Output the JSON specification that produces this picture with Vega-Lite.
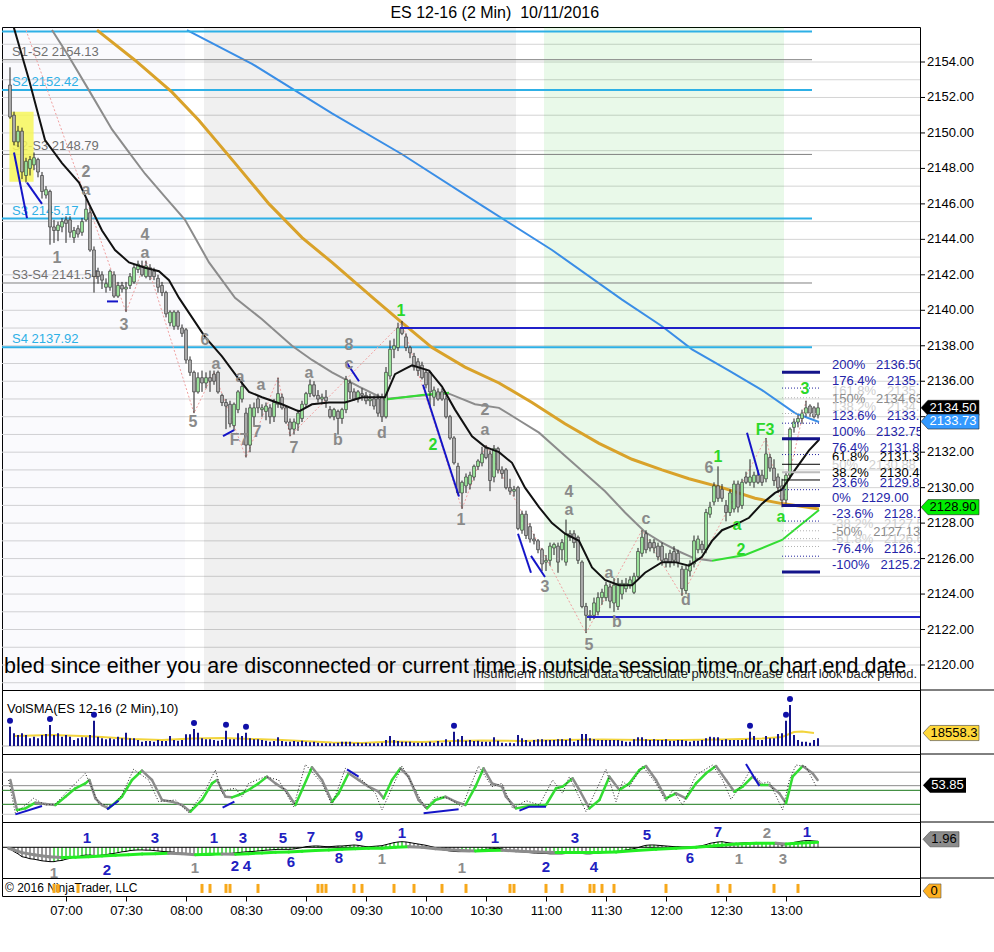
{
"$schema": "https://vega.github.io/schema/vega-lite/v6.json",
"background": "white",
"padding": {"left": 0, "top": 4, "right": 0, "bottom": 0},
"bounds": "flush",
"title": {"text": "ES 12-16 (2 Min)\u00a0 10/11/2016", "anchor": "middle", "fontSize": 16, "fontWeight": "normal", "font": "Liberation Sans", "color": "#000", "offset": 6, "dx": -4},
"config": {
  "view": {"stroke": "#000", "strokeWidth": 1},
  "font": "Liberation Sans",
  "scale": {"continuousPadding": 0},
  "axis": {"labelFontSize": 13, "labelColor": "#000", "tickColor": "#000", "domain": false, "grid": false, "labelFont": "Liberation Sans"}
},
"spacing": 0,
"resolve": {"scale": {"x": "independent", "y": "independent"}},
"datasets": {
"bars": [
{"t":392,"o":2152.7,"h":2153.7,"l":2150.8,"c":2150.9,"v":27600,"m":-0.4,"hv":1},
{"t":394,"o":2151.0,"h":2151.2,"l":2149.3,"c":2149.5,"v":18160,"m":-1.06},
{"t":396,"o":2149.5,"h":2150.4,"l":2149.2,"c":2150.1,"v":15730,"m":-1.6},
{"t":398,"o":2150.1,"h":2150.3,"l":2147.4,"c":2147.8,"v":18160,"m":-2.3},
{"t":400,"o":2147.6,"h":2148.6,"l":2147.2,"c":2148.4,"v":15730,"m":-2.5},
{"t":402,"o":2148.0,"h":2148.7,"l":2147.6,"c":2148.5,"v":11010,"m":-2.8},
{"t":404,"o":2148.2,"h":2148.9,"l":2147.9,"c":2148.6,"v":13300,"m":-2.9},
{"t":406,"o":2148.5,"h":2148.6,"l":2147.5,"c":2147.8,"v":11010,"m":-3.1},
{"t":408,"o":2147.6,"h":2147.8,"l":2146.3,"c":2146.7,"v":15730,"m":-3.3},
{"t":410,"o":2146.5,"h":2147.0,"l":2146.3,"c":2146.8,"v":17160,"m":-3.4},
{"t":412,"o":2146.7,"h":2146.8,"l":2143.7,"c":2144.7,"v":30030,"m":-3.5,"hv":1},
{"t":414,"o":2144.7,"h":2145.1,"l":2143.8,"c":2144.5,"v":15730,"m":-3.5,"mk":1},
{"t":416,"o":2144.5,"h":2145.0,"l":2143.9,"c":2144.8,"v":18160,"m":-3.3,"mk":1},
{"t":418,"o":2144.7,"h":2145.2,"l":2144.4,"c":2145.0,"v":13300,"m":-3.2},
{"t":420,"o":2145.1,"h":2145.3,"l":2143.8,"c":2144.9,"v":15730,"m":-2.9},
{"t":422,"o":2145.1,"h":2145.3,"l":2144.1,"c":2144.4,"v":13300,"m":-2.7},
{"t":424,"o":2144.1,"h":2144.7,"l":2143.8,"c":2144.5,"v":8580,"m":-2.4},
{"t":426,"o":2144.6,"h":2144.8,"l":2144.1,"c":2144.3,"v":11010,"m":-2.3,"mk":1},
{"t":428,"o":2144.4,"h":2145.2,"l":2144.2,"c":2145.0,"v":12440,"m":-2.0},
{"t":430,"o":2145.1,"h":2146.3,"l":2145.0,"c":2145.7,"v":12440,"m":-1.9},
{"t":432,"o":2145.5,"h":2145.8,"l":2143.3,"c":2143.4,"v":15730,"m":-1.9},
{"t":434,"o":2143.4,"h":2143.6,"l":2141.0,"c":2141.9,"v":36180,"m":-2.0,"hv":1},
{"t":436,"o":2142.2,"h":2142.4,"l":2141.5,"c":2141.9,"v":13300,"m":-2.0},
{"t":438,"o":2142.0,"h":2142.2,"l":2141.2,"c":2141.7,"v":11010,"m":-1.9},
{"t":440,"o":2141.3,"h":2141.8,"l":2141.0,"c":2141.5,"v":9580,"m":-1.8},
{"t":442,"o":2141.3,"h":2142.3,"l":2141.1,"c":2142.2,"v":11010,"m":-1.6},
{"t":444,"o":2142.0,"h":2142.2,"l":2140.7,"c":2140.8,"v":9580,"m":-1.5},
{"t":446,"o":2140.8,"h":2141.6,"l":2140.7,"c":2141.4,"v":13300,"m":-1.3},
{"t":448,"o":2141.4,"h":2141.6,"l":2141.0,"c":2141.2,"v":11010,"m":-1.1},
{"t":450,"o":2141.2,"h":2141.6,"l":2139.9,"c":2141.3,"v":19020,"m":-1.0},
{"t":452,"o":2141.4,"h":2142.1,"l":2141.2,"c":2141.9,"v":11010,"m":-0.8},
{"t":454,"o":2141.6,"h":2142.6,"l":2141.5,"c":2142.4,"v":11010,"m":-0.7},
{"t":456,"o":2142.3,"h":2142.8,"l":2142.1,"c":2142.6,"v":8580,"m":-0.65},
{"t":458,"o":2142.5,"h":2142.8,"l":2141.9,"c":2142.0,"v":6150,"m":-0.65},
{"t":460,"o":2141.9,"h":2142.8,"l":2141.8,"c":2142.5,"v":7150,"m":-0.7},
{"t":462,"o":2142.4,"h":2142.6,"l":2141.7,"c":2141.9,"v":7150,"m":-0.7},
{"t":464,"o":2142.2,"h":2142.4,"l":2141.7,"c":2141.9,"v":6150,"m":-0.8},
{"t":466,"o":2141.8,"h":2142.0,"l":2141.0,"c":2141.3,"v":8580,"m":-0.9},
{"t":468,"o":2141.4,"h":2141.6,"l":2140.8,"c":2141.0,"v":7150,"m":-1.0},
{"t":470,"o":2141.0,"h":2141.1,"l":2139.6,"c":2139.8,"v":7150,"m":-1.06},
{"t":472,"o":2139.3,"h":2140.0,"l":2139.1,"c":2139.9,"v":14300,"m":-1.1},
{"t":474,"o":2139.1,"h":2140.0,"l":2138.9,"c":2139.9,"v":8580,"m":-1.2},
{"t":476,"o":2139.9,"h":2140.0,"l":2138.9,"c":2139.1,"v":7580,"m":-1.4},
{"t":478,"o":2139.0,"h":2139.2,"l":2138.5,"c":2138.7,"v":8580,"m":-1.46},
{"t":480,"o":2138.9,"h":2139.0,"l":2137.0,"c":2137.2,"v":16730,"m":-1.5},
{"t":482,"o":2137.2,"h":2137.4,"l":2136.3,"c":2136.5,"v":16730,"m":-1.7},
{"t":484,"o":2136.5,"h":2136.6,"l":2134.2,"c":2135.4,"v":24310,"m":-1.9,"hv":1},
{"t":486,"o":2135.4,"h":2136.5,"l":2135.3,"c":2136.2,"v":19020,"m":-1.9},
{"t":488,"o":2136.2,"h":2136.6,"l":2135.4,"c":2135.9,"v":11010,"m":-1.9,"mk":1},
{"t":490,"o":2135.9,"h":2136.5,"l":2135.6,"c":2136.2,"v":9580,"m":-1.9},
{"t":492,"o":2136.2,"h":2136.6,"l":2135.4,"c":2136.0,"v":9580,"m":-1.9,"mk":1},
{"t":494,"o":2136.4,"h":2136.6,"l":2135.8,"c":2136.0,"v":8580,"m":-1.8},
{"t":496,"o":2136.5,"h":2136.6,"l":2135.3,"c":2135.4,"v":7580,"m":-1.7},
{"t":498,"o":2135.2,"h":2135.3,"l":2134.6,"c":2134.8,"v":8580,"m":-1.6},
{"t":500,"o":2134.8,"h":2135.0,"l":2133.3,"c":2134.6,"v":21880,"m":-1.6,"hv":1,"mk":1},
{"t":502,"o":2134.7,"h":2134.9,"l":2133.4,"c":2133.6,"v":9580,"m":-1.5,"mk":1},
{"t":504,"o":2133.5,"h":2134.8,"l":2133.2,"c":2134.7,"v":9580,"m":-1.4},
{"t":506,"o":2134.4,"h":2135.5,"l":2134.2,"c":2135.4,"v":18160,"m":-1.3},
{"t":508,"o":2135.0,"h":2136.0,"l":2134.8,"c":2135.7,"v":14300,"m":-1.2},
{"t":510,"o":2134.2,"h":2134.5,"l":2131.7,"c":2132.4,"v":19020,"m":-1.1,"hv":1},
{"t":512,"o":2132.4,"h":2134.7,"l":2132.0,"c":2134.5,"v":11010,"m":-1.06},
{"t":514,"o":2134.0,"h":2134.8,"l":2133.5,"c":2134.5,"v":9580,"m":-1.0},
{"t":516,"o":2135.0,"h":2135.2,"l":2134.2,"c":2134.5,"v":9580,"m":-0.9,"mk":1},
{"t":518,"o":2134.4,"h":2134.7,"l":2134.0,"c":2134.5,"v":8580,"m":-0.8},
{"t":520,"o":2134.3,"h":2134.8,"l":2133.8,"c":2134.6,"v":7580,"m":-0.7},
{"t":522,"o":2134.5,"h":2134.7,"l":2133.6,"c":2134.0,"v":6150,"m":-0.65},
{"t":524,"o":2134.0,"h":2135.0,"l":2133.7,"c":2134.8,"v":7150,"m":-0.57},
{"t":526,"o":2134.7,"h":2136.2,"l":2134.5,"c":2135.3,"v":12440,"m":-0.5},
{"t":528,"o":2135.1,"h":2135.3,"l":2134.4,"c":2134.5,"v":7150,"m":-0.5},
{"t":530,"o":2134.5,"h":2134.6,"l":2133.6,"c":2133.7,"v":6150,"m":-0.5},
{"t":532,"o":2133.7,"h":2133.9,"l":2132.9,"c":2133.3,"v":6150,"m":-0.5},
{"t":534,"o":2133.3,"h":2133.9,"l":2133.0,"c":2133.7,"v":7150,"m":-0.4},
{"t":536,"o":2133.6,"h":2134.4,"l":2133.2,"c":2134.2,"v":6150,"m":-0.24},
{"t":538,"o":2133.9,"h":2134.9,"l":2133.7,"c":2134.7,"v":7580,"m":-0.08},
{"t":540,"o":2134.7,"h":2135.4,"l":2134.5,"c":2135.3,"v":6150,"m":0.16},
{"t":542,"o":2135.3,"h":2136.1,"l":2135.1,"c":2135.8,"v":5290,"m":0.24},
{"t":544,"o":2135.8,"h":2136.0,"l":2135.1,"c":2135.2,"v":6150,"m":0.32},
{"t":546,"o":2135.2,"h":2135.5,"l":2134.8,"c":2135.0,"v":4720,"m":0.32,"mk":1},
{"t":548,"o":2135.0,"h":2135.3,"l":2134.7,"c":2135.1,"v":3860,"m":0.24,"mk":1},
{"t":550,"o":2135.1,"h":2135.5,"l":2134.5,"c":2134.9,"v":3860,"m":0.16,"mk":1},
{"t":552,"o":2134.4,"h":2134.6,"l":2133.9,"c":2134.0,"v":3860,"m":0.16},
{"t":554,"o":2134.0,"h":2134.5,"l":2133.8,"c":2134.4,"v":3860,"m":0.24},
{"t":556,"o":2134.3,"h":2134.4,"l":2133.0,"c":2133.9,"v":4720,"m":0.32},
{"t":558,"o":2133.9,"h":2134.5,"l":2133.6,"c":2134.4,"v":6150,"m":0.32},
{"t":560,"o":2134.4,"h":2136.3,"l":2134.2,"c":2136.1,"v":6150,"m":0.4},
{"t":562,"o":2135.9,"h":2136.1,"l":2135.0,"c":2135.4,"v":6150,"m":0.48},
{"t":564,"o":2135.4,"h":2135.6,"l":2134.9,"c":2135.0,"v":3860,"m":0.56,"mk":1},
{"t":566,"o":2135.0,"h":2135.5,"l":2134.8,"c":2135.4,"v":4720,"m":0.48},
{"t":568,"o":2135.3,"h":2135.6,"l":2134.9,"c":2135.2,"v":3860,"m":0.32,"mk":1},
{"t":570,"o":2135.2,"h":2135.4,"l":2134.7,"c":2134.9,"v":4720,"m":0.16},
{"t":572,"o":2134.9,"h":2135.3,"l":2134.6,"c":2135.0,"v":3860,"m":0.16},
{"t":574,"o":2135.0,"h":2135.2,"l":2134.4,"c":2134.6,"v":3860,"m":0.24},
{"t":576,"o":2135.0,"h":2135.3,"l":2134.0,"c":2134.2,"v":3860,"m":0.32},
{"t":578,"o":2135.1,"h":2135.3,"l":2133.7,"c":2134.0,"v":4720,"m":0.4},
{"t":580,"o":2134.0,"h":2136.8,"l":2133.9,"c":2136.5,"v":8580,"m":0.65},
{"t":582,"o":2136.3,"h":2138.3,"l":2136.1,"c":2137.8,"v":14300,"m":0.9},
{"t":584,"o":2137.8,"h":2138.4,"l":2137.3,"c":2138.0,"v":8580,"m":1.14,"mk":1},
{"t":586,"o":2137.9,"h":2139.3,"l":2137.7,"c":2139.0,"v":7150,"m":1.3},
{"t":588,"o":2139.0,"h":2139.4,"l":2138.6,"c":2138.7,"v":6150,"m":1.37},
{"t":590,"o":2138.5,"h":2138.7,"l":2137.7,"c":2137.9,"v":6150,"m":1.3},
{"t":592,"o":2137.9,"h":2138.0,"l":2137.3,"c":2137.6,"v":6150,"m":1.14},
{"t":594,"o":2137.4,"h":2137.6,"l":2136.6,"c":2136.8,"v":4720,"m":0.97,"mk":1},
{"t":596,"o":2137.1,"h":2137.3,"l":2136.3,"c":2136.6,"v":4720,"m":0.81},
{"t":598,"o":2136.9,"h":2137.1,"l":2136.1,"c":2136.2,"v":4720,"m":0.65},
{"t":600,"o":2136.5,"h":2136.7,"l":2135.6,"c":2135.8,"v":4720,"m":0.48},
{"t":602,"o":2136.5,"h":2136.6,"l":2134.6,"c":2135.4,"v":6150,"m":0.24},
{"t":604,"o":2135.1,"h":2135.7,"l":2134.6,"c":2135.5,"v":4720,"m":0},
{"t":606,"o":2135.4,"h":2135.6,"l":2134.9,"c":2135.0,"v":7150,"m":-0.24},
{"t":608,"o":2135.4,"h":2135.6,"l":2134.9,"c":2135.0,"v":4720,"m":-0.57,"mk":1},
{"t":610,"o":2135.0,"h":2135.2,"l":2133.9,"c":2134.0,"v":9580,"m":-0.73},
{"t":612,"o":2134.0,"h":2134.1,"l":2132.7,"c":2132.8,"v":6150,"m":-0.9},
{"t":614,"o":2132.8,"h":2132.9,"l":2131.3,"c":2131.4,"v":20450,"m":-1.0,"hv":1},
{"t":616,"o":2131.2,"h":2131.4,"l":2129.6,"c":2129.7,"v":9580,"m":-1.06},
{"t":618,"o":2129.7,"h":2130.4,"l":2128.8,"c":2130.3,"v":14300,"m":-1.06},
{"t":620,"o":2130.1,"h":2130.8,"l":2129.7,"c":2130.6,"v":7580,"m":-1.06,"mk":1},
{"t":622,"o":2130.2,"h":2130.9,"l":2129.9,"c":2130.7,"v":8580,"m":-1.06},
{"t":624,"o":2130.6,"h":2131.3,"l":2130.4,"c":2131.2,"v":7150,"m":-0.9},
{"t":626,"o":2131.2,"h":2131.6,"l":2131.0,"c":2131.5,"v":7580,"m":-0.73},
{"t":628,"o":2131.4,"h":2132.3,"l":2131.2,"c":2131.9,"v":6150,"m":-0.65},
{"t":630,"o":2132.2,"h":2132.4,"l":2131.6,"c":2131.7,"v":6150,"m":-0.49},
{"t":632,"o":2131.9,"h":2132.1,"l":2129.8,"c":2130.4,"v":6150,"m":-0.4},
{"t":634,"o":2130.6,"h":2132.4,"l":2130.3,"c":2132.2,"v":12440,"m":-0.32},
{"t":636,"o":2132.2,"h":2132.3,"l":2130.8,"c":2131.0,"v":7580,"m":-0.24},
{"t":638,"o":2131.0,"h":2131.2,"l":2130.5,"c":2130.8,"v":4720,"m":-0.4},
{"t":640,"o":2131.0,"h":2131.1,"l":2129.9,"c":2130.0,"v":3860,"m":-0.65},
{"t":642,"o":2130.0,"h":2130.5,"l":2129.6,"c":2129.8,"v":4720,"m":-0.81,"mk":1},
{"t":644,"o":2129.8,"h":2130.1,"l":2129.5,"c":2129.9,"v":3860,"m":-1.0,"mk":1},
{"t":646,"o":2130.0,"h":2130.1,"l":2127.6,"c":2127.7,"v":15730,"m":-1.06},
{"t":648,"o":2127.6,"h":2128.7,"l":2127.4,"c":2128.5,"v":11010,"m":-1.1},
{"t":650,"o":2128.5,"h":2128.7,"l":2127.1,"c":2127.3,"v":8580,"m":-1.2},
{"t":652,"o":2127.8,"h":2128.0,"l":2126.9,"c":2127.1,"v":6150,"m":-1.3},
{"t":654,"o":2127.1,"h":2127.4,"l":2126.8,"c":2127.0,"v":8580,"m":-1.4},
{"t":656,"o":2127.0,"h":2127.1,"l":2126.3,"c":2126.5,"v":9580,"m":-1.46},
{"t":658,"o":2126.5,"h":2126.6,"l":2125.3,"c":2125.7,"v":9580,"m":-1.5},
{"t":660,"o":2125.8,"h":2126.2,"l":2125.3,"c":2125.9,"v":8580,"m":-1.5,"mk":1},
{"t":662,"o":2125.9,"h":2126.9,"l":2125.6,"c":2126.7,"v":8580,"m":-1.6},
{"t":664,"o":2126.6,"h":2126.9,"l":2126.2,"c":2126.8,"v":8580,"m":-1.6},
{"t":666,"o":2126.7,"h":2126.9,"l":2125.2,"c":2125.8,"v":9580,"m":-1.6},
{"t":668,"o":2126.5,"h":2127.1,"l":2125.9,"c":2126.9,"v":9580,"m":-1.6,"mk":1},
{"t":670,"o":2125.8,"h":2128.2,"l":2125.6,"c":2127.4,"v":8580,"m":-1.5},
{"t":672,"o":2127.4,"h":2127.6,"l":2127.0,"c":2127.2,"v":11010,"m":-1.46},
{"t":674,"o":2127.4,"h":2127.6,"l":2126.6,"c":2126.9,"v":6150,"m":-1.46},
{"t":676,"o":2127.2,"h":2127.3,"l":2125.7,"c":2125.9,"v":8580,"m":-1.46},
{"t":678,"o":2125.8,"h":2125.9,"l":2123.2,"c":2123.3,"v":17160,"m":-1.5},
{"t":680,"o":2123.3,"h":2123.5,"l":2121.8,"c":2122.8,"v":17160,"m":-1.6},
{"t":682,"o":2122.8,"h":2123.1,"l":2122.5,"c":2122.7,"v":11010,"m":-1.6,"mk":1},
{"t":684,"o":2122.8,"h":2123.8,"l":2122.6,"c":2123.5,"v":9580,"m":-1.5,"mk":1},
{"t":686,"o":2123.0,"h":2124.1,"l":2122.8,"c":2123.8,"v":8580,"m":-1.46},
{"t":688,"o":2123.8,"h":2124.3,"l":2123.4,"c":2124.1,"v":8580,"m":-1.3,"mk":1},
{"t":690,"o":2123.8,"h":2124.7,"l":2123.6,"c":2124.5,"v":8580,"m":-1.2},
{"t":692,"o":2124.4,"h":2124.6,"l":2123.2,"c":2123.6,"v":8580,"m":-1.1},
{"t":694,"o":2123.5,"h":2124.9,"l":2123.0,"c":2124.5,"v":8580,"m":-1.06,"mk":1},
{"t":696,"o":2123.3,"h":2124.9,"l":2123.1,"c":2124.6,"v":8580,"m":-1.0},
{"t":698,"o":2124.0,"h":2124.8,"l":2123.7,"c":2124.6,"v":7580,"m":-0.81},
{"t":700,"o":2124.3,"h":2124.9,"l":2124.1,"c":2124.6,"v":6150,"m":-0.65},
{"t":702,"o":2124.5,"h":2125.0,"l":2124.3,"c":2124.8,"v":6150,"m":-0.49},
{"t":704,"o":2124.1,"h":2125.2,"l":2124.0,"c":2125.0,"v":9580,"m":-0.32},
{"t":706,"o":2125.0,"h":2126.6,"l":2124.9,"c":2126.4,"v":12440,"m":-0.08},
{"t":708,"o":2126.3,"h":2127.6,"l":2126.1,"c":2127.2,"v":12440,"m":0.24},
{"t":710,"o":2127.4,"h":2127.6,"l":2126.3,"c":2126.5,"v":9580,"m":0.48},
{"t":712,"o":2126.9,"h":2127.1,"l":2126.4,"c":2126.6,"v":8580,"m":0.56},
{"t":714,"o":2126.9,"h":2127.1,"l":2126.3,"c":2126.6,"v":9580,"m":0.56},
{"t":716,"o":2126.7,"h":2126.9,"l":2125.9,"c":2126.1,"v":8580,"m":0.48},
{"t":718,"o":2126.7,"h":2126.9,"l":2125.6,"c":2125.9,"v":8580,"m":0.4},
{"t":720,"o":2126.0,"h":2126.3,"l":2125.5,"c":2125.8,"v":9580,"m":0.32,"mk":1},
{"t":722,"o":2126.3,"h":2126.5,"l":2125.5,"c":2125.8,"v":7580,"m":0.24},
{"t":724,"o":2126.4,"h":2126.7,"l":2125.6,"c":2125.9,"v":7580,"m":0.16},
{"t":726,"o":2126.3,"h":2126.5,"l":2125.5,"c":2125.8,"v":8580,"m":0.16},
{"t":728,"o":2125.4,"h":2125.6,"l":2123.9,"c":2124.3,"v":8580,"m":0.08},
{"t":730,"o":2124.2,"h":2125.6,"l":2124.0,"c":2125.4,"v":7580,"m":0.08},
{"t":732,"o":2125.3,"h":2125.9,"l":2125.0,"c":2125.7,"v":6150,"m":0.16},
{"t":734,"o":2125.7,"h":2127.3,"l":2125.5,"c":2127.0,"v":7580,"m":0.16},
{"t":736,"o":2126.5,"h":2127.3,"l":2126.3,"c":2127.1,"v":7580,"m":0.24},
{"t":738,"o":2126.8,"h":2127.0,"l":2126.3,"c":2126.5,"v":8580,"m":0.4},
{"t":740,"o":2126.5,"h":2128.8,"l":2126.3,"c":2128.6,"v":11010,"m":0.65},
{"t":742,"o":2128.5,"h":2129.2,"l":2128.3,"c":2128.9,"v":13300,"m":0.97},
{"t":744,"o":2129.2,"h":2130.3,"l":2129.0,"c":2130.1,"v":12440,"m":1.14},
{"t":746,"o":2130.1,"h":2131.2,"l":2129.2,"c":2129.4,"v":12440,"m":1.3,"mk":1},
{"t":748,"o":2129.9,"h":2130.2,"l":2129.2,"c":2129.4,"v":8580,"m":1.37},
{"t":750,"o":2129.0,"h":2129.3,"l":2128.1,"c":2128.6,"v":9580,"m":1.2},
{"t":752,"o":2128.6,"h":2129.9,"l":2128.4,"c":2129.7,"v":8580,"m":1.06,"mk":1},
{"t":754,"o":2128.8,"h":2130.4,"l":2128.6,"c":2130.2,"v":8580,"m":0.97},
{"t":756,"o":2130.2,"h":2130.4,"l":2128.6,"c":2128.9,"v":8580,"m":0.97},
{"t":758,"o":2129.0,"h":2130.5,"l":2128.8,"c":2130.3,"v":8580,"m":1.06},
{"t":760,"o":2130.6,"h":2130.9,"l":2130.2,"c":2130.3,"v":9580,"m":1.14},
{"t":762,"o":2130.3,"h":2131.6,"l":2130.1,"c":2130.6,"v":20450,"m":1.14,"hv":1},
{"t":764,"o":2130.3,"h":2130.9,"l":2130.0,"c":2130.7,"v":14300,"m":1.06},
{"t":766,"o":2130.7,"h":2131.0,"l":2130.2,"c":2130.3,"v":8580,"m":0.97},
{"t":768,"o":2130.7,"h":2131.0,"l":2130.1,"c":2130.3,"v":8580,"m":0.97},
{"t":770,"o":2130.5,"h":2132.8,"l":2130.3,"c":2131.9,"v":14300,"m":1.06},
{"t":772,"o":2131.7,"h":2131.9,"l":2130.9,"c":2131.1,"v":11010,"m":0.97},
{"t":774,"o":2131.1,"h":2131.6,"l":2130.1,"c":2130.4,"v":11010,"m":0.9,"mk":1},
{"t":776,"o":2130.6,"h":2130.8,"l":2129.7,"c":2130.0,"v":17160,"m":0.73},
{"t":778,"o":2130.1,"h":2130.5,"l":2128.9,"c":2129.3,"v":18160,"m":0.56},
{"t":780,"o":2129.3,"h":2130.9,"l":2129.1,"c":2130.7,"v":36180,"m":0.65,"hv":1},
{"t":782,"o":2130.7,"h":2133.4,"l":2130.5,"c":2133.3,"v":58630,"m":0.97,"hv":1},
{"t":784,"o":2133.4,"h":2133.9,"l":2133.1,"c":2133.7,"v":15730,"m":1.2},
{"t":786,"o":2133.7,"h":2134.1,"l":2133.4,"c":2133.9,"v":8580,"m":1.37,"mk":1},
{"t":788,"o":2133.9,"h":2134.4,"l":2133.6,"c":2134.2,"v":6150,"m":1.54},
{"t":790,"o":2134.2,"h":2134.9,"l":2134.0,"c":2134.5,"v":6150,"m":1.63},
{"t":792,"o":2134.6,"h":2134.7,"l":2134.0,"c":2134.2,"v":4720,"m":1.63},
{"t":794,"o":2134.5,"h":2134.6,"l":2133.9,"c":2134.0,"v":8580,"m":1.54},
{"t":796,"o":2134.1,"h":2134.8,"l":2133.9,"c":2134.5,"v":11010,"m":1.46}
],
"gridp": [
{"t":388,"t1":847,"p":2119},{"t":388,"t1":847,"p":2120},{"t":388,"t1":847,"p":2121},{"t":388,"t1":847,"p":2122},{"t":388,"t1":847,"p":2123},{"t":388,"t1":847,"p":2124},{"t":388,"t1":847,"p":2125},{"t":388,"t1":847,"p":2126},{"t":388,"t1":847,"p":2127},{"t":388,"t1":847,"p":2128},{"t":388,"t1":847,"p":2129},{"t":388,"t1":847,"p":2130},{"t":388,"t1":847,"p":2131},{"t":388,"t1":847,"p":2132},{"t":388,"t1":847,"p":2133},{"t":388,"t1":847,"p":2134},{"t":388,"t1":847,"p":2135},{"t":388,"t1":847,"p":2136},{"t":388,"t1":847,"p":2137},{"t":388,"t1":847,"p":2138},{"t":388,"t1":847,"p":2139},{"t":388,"t1":847,"p":2140},{"t":388,"t1":847,"p":2141},{"t":388,"t1":847,"p":2142},{"t":388,"t1":847,"p":2143},{"t":388,"t1":847,"p":2144},{"t":388,"t1":847,"p":2145},{"t":388,"t1":847,"p":2146},{"t":388,"t1":847,"p":2147},{"t":388,"t1":847,"p":2148},{"t":388,"t1":847,"p":2149},{"t":388,"t1":847,"p":2150},{"t":388,"t1":847,"p":2151},{"t":388,"t1":847,"p":2152},{"t":388,"t1":847,"p":2153},{"t":388,"t1":847,"p":2154},{"t":388,"t1":847,"p":2155}
],
"ptick": [
{"t":847,"t1":849.5,"p":2120,"txt":"2120.00"},{"t":847,"t1":849.5,"p":2122,"txt":"2122.00"},{"t":847,"t1":849.5,"p":2124,"txt":"2124.00"},{"t":847,"t1":849.5,"p":2126,"txt":"2126.00"},{"t":847,"t1":849.5,"p":2128,"txt":"2128.00"},{"t":847,"t1":849.5,"p":2130,"txt":"2130.00"},{"t":847,"t1":849.5,"p":2132,"txt":"2132.00"},{"t":847,"t1":849.5,"p":2134,"txt":"2134.00"},{"t":847,"t1":849.5,"p":2136,"txt":"2136.00"},{"t":847,"t1":849.5,"p":2138,"txt":"2138.00"},{"t":847,"t1":849.5,"p":2140,"txt":"2140.00"},{"t":847,"t1":849.5,"p":2142,"txt":"2142.00"},{"t":847,"t1":849.5,"p":2144,"txt":"2144.00"},{"t":847,"t1":849.5,"p":2146,"txt":"2146.00"},{"t":847,"t1":849.5,"p":2148,"txt":"2148.00"},{"t":847,"t1":849.5,"p":2150,"txt":"2150.00"},{"t":847,"t1":849.5,"p":2152,"txt":"2152.00"},{"t":847,"t1":849.5,"p":2154,"txt":"2154.00"}
],
"maBlack": [
{"t":393,"p":2156.3},{"t":401.5,"p":2153.0},{"t":409.5,"p":2149.6},{"t":418,"p":2148.3},{"t":426.5,"p":2147.2},{"t":431.5,"p":2146.0},{"t":438,"p":2144.5},{"t":444.5,"p":2143.4},{"t":451.5,"p":2142.7},{"t":459.5,"p":2142.4},{"t":466.5,"p":2142.2},{"t":471.5,"p":2141.7},{"t":476.5,"p":2140.7},{"t":483,"p":2139.6},{"t":489.5,"p":2138.5},{"t":498,"p":2137.4},{"t":506.5,"p":2136.1},{"t":511.5,"p":2135.4},{"t":518,"p":2135.1},{"t":528,"p":2134.7},{"t":536.5,"p":2134.3},{"t":543,"p":2134.7},{"t":551.5,"p":2134.8},{"t":559.5,"p":2134.8},{"t":568,"p":2135.1},{"t":576.5,"p":2135.1},{"t":579.5,"p":2135.1},{"t":584.5,"p":2136.4},{"t":589.5,"p":2136.7},{"t":593,"p":2136.9},{"t":601.5,"p":2136.6},{"t":608,"p":2135.7},{"t":614.5,"p":2134.4},{"t":623,"p":2132.9},{"t":629.5,"p":2132.3},{"t":636.5,"p":2132.0},{"t":643,"p":2131.4},{"t":649.5,"p":2130.0},{"t":656.5,"p":2128.9},{"t":663,"p":2128.0},{"t":669.5,"p":2127.4},{"t":676.5,"p":2127.0},{"t":683,"p":2125.5},{"t":689.5,"p":2124.8},{"t":696.5,"p":2124.5},{"t":703,"p":2124.5},{"t":709.5,"p":2125.2},{"t":718,"p":2125.8},{"t":724.5,"p":2125.8},{"t":731.5,"p":2125.6},{"t":738,"p":2126.1},{"t":743,"p":2127.0},{"t":748,"p":2127.6},{"t":754.5,"p":2127.9},{"t":761.5,"p":2128.3},{"t":768,"p":2129.1},{"t":774.5,"p":2129.7},{"t":778,"p":2129.9},{"t":784.5,"p":2131.0},{"t":791.5,"p":2132.1},{"t":796.5,"p":2132.7}
],
"maGrey": [
{"t":413,"p":2155.8},{"t":421.5,"p":2154.3},{"t":431.5,"p":2152.4},{"t":443,"p":2150.2},{"t":451.5,"p":2148.9},{"t":459.5,"p":2147.7},{"t":469.5,"p":2146.4},{"t":479.5,"p":2145.1},{"t":491.5,"p":2142.7},{"t":504.5,"p":2140.7},{"t":518,"p":2139.5},{"t":533,"p":2138.0},{"t":543,"p":2137.2},{"t":553,"p":2136.5},{"t":566.5,"p":2135.7},{"t":579,"p":2135.0},{"t":598,"p":2135.2},{"t":611.5,"p":2135.3},{"t":624.5,"p":2134.7},{"t":636.5,"p":2134.5},{"t":646.5,"p":2133.8},{"t":656.5,"p":2133.1},{"t":666.5,"p":2132.1},{"t":679.5,"p":2130.8},{"t":689.5,"p":2129.8},{"t":699.5,"p":2128.6},{"t":709.5,"p":2127.5},{"t":718,"p":2126.9},{"t":726.5,"p":2126.4},{"t":734.5,"p":2126.0},{"t":743,"p":2125.88}
],
"maOrange": [
{"t":435.5,"p":2155.8},{"t":454.5,"p":2154.1},{"t":473,"p":2152.3},{"t":486.5,"p":2150.7},{"t":504.5,"p":2148.3},{"t":521.5,"p":2146.0},{"t":538,"p":2144.1},{"t":553,"p":2142.7},{"t":574.5,"p":2140.6},{"t":588,"p":2139.3},{"t":603,"p":2137.9},{"t":619.5,"p":2136.8},{"t":636.5,"p":2135.9},{"t":653,"p":2134.8},{"t":669.5,"p":2133.6},{"t":686.5,"p":2132.5},{"t":703,"p":2131.6},{"t":718,"p":2131.0},{"t":731.5,"p":2130.5},{"t":748,"p":2130.0},{"t":764.5,"p":2129.4},{"t":778,"p":2129.1},{"t":796.5,"p":2128.8}
],
"maBlue": [
{"t":480.5,"p":2155.8},{"t":513,"p":2153.9},{"t":553,"p":2151.1},{"t":588,"p":2148.8},{"t":628,"p":2145.9},{"t":663,"p":2143.4},{"t":698,"p":2140.6},{"t":718,"p":2139.1},{"t":733,"p":2137.8},{"t":751.5,"p":2136.6},{"t":768,"p":2135.5},{"t":784.5,"p":2134.2},{"t":796.5,"p":2133.7}
],
"gseg": [
{"t":579,"p":2134.95,"g":"A"},{"t":598,"p":2135.22,"g":"A"},{"t":611.5,"p":2135.35,"g":"A"},
{"t":743,"p":2125.88,"g":"B"},{"t":759.5,"p":2126.2,"g":"B"},{"t":778,"p":2127.05,"g":"B"},{"t":796.5,"p":2128.74,"g":"B"}
],
"shade": [
{"t":388,"t1":479.5,"k":"pre"},{"t":489,"t1":645,"k":"grey"},{"t":659,"t1":779,"k":"green"}
],
"hl": [{"t":391.7,"t1":403.8,"p":2147.25,"p1":2151.2}],
"slines": [
{"t":388,"t1":793,"p":2155.72,"k":"p","txt":""},{"t":388,"t1":793,"p":2154.13,"k":"m","txt":"S1-S2 2154.13"},{"t":388,"t1":793,"p":2152.42,"k":"p","txt":"S2 2152.42"},{"t":388,"t1":793,"p":2148.79,"k":"m","txt":"S2-S3 2148.79"},{"t":388,"t1":793,"p":2145.17,"k":"p","txt":"S3 2145.17"},{"t":388,"t1":793,"p":2141.54,"k":"m","txt":"S3-S4 2141.54"},{"t":388,"t1":793,"p":2137.92,"k":"p","txt":"S4 2137.92"}
],
"zz": [
{"t":400,"p":2155.8},{"t":430,"p":2146.3},{"t":450,"p":2139.9},{"t":460,"p":2142.8},{"t":484,"p":2134.2},{"t":494,"p":2136.5},{"t":510,"p":2131.7},{"t":526,"p":2136.2},{"t":532,"p":2132.9},{"t":588,"p":2139.3},{"t":618,"p":2128.8},{"t":630,"p":2132.4},{"t":680,"p":2121.8},{"t":708,"p":2127.6},{"t":728,"p":2123.9},{"t":770,"p":2132.8},{"t":778,"p":2128.9},{"t":790,"p":2134.9}
],
"divs": [
{"t":394,"p":2148.9,"g":"1"},{"t":400.5,"p":2145.2,"g":"1"},
{"t":400.5,"p":2147.2,"g":"2"},{"t":408,"p":2146.0,"g":"2"},
{"t":440.5,"p":2140.5,"g":"3"},{"t":446,"p":2140.5,"g":"3"},
{"t":498.5,"p":2132.9,"g":"4"},{"t":504,"p":2133.25,"g":"4"},
{"t":560,"p":2137.1,"g":"5"},{"t":566.5,"p":2136.0,"g":"5"},
{"t":598.5,"p":2135.8,"g":"6"},{"t":616.5,"p":2129.5,"g":"6"},
{"t":646,"p":2127.4,"g":"7"},{"t":652.5,"p":2125.2,"g":"7"},
{"t":652.5,"p":2126.15,"g":"8"},{"t":659.5,"p":2124.96,"g":"8"},
{"t":760.5,"p":2133.1,"g":"9"},{"t":766.5,"p":2130.7,"g":"9"}
],
"navy": [{"t":587,"t1":847,"p":2139.0},{"t":680.5,"t1":847,"p":2122.7}],
"fib": [
{"t":778,"t1":797,"p":2136.5,"k":"main"},{"t":778,"t1":797,"p":2132.75,"k":"main"},{"t":778,"t1":797,"p":2129.0,"k":"main"},{"t":778,"t1":797,"p":2125.25,"k":"main"},
{"t":778,"t1":797,"p":2135.615,"k":"ext"},{"t":778,"t1":797,"p":2133.635,"k":"ext"},{"t":778,"t1":797,"p":2131.865,"k":"ext"},{"t":778,"t1":797,"p":2129.885,"k":"ext"},{"t":778,"t1":797,"p":2128.115,"k":"ext"},{"t":778,"t1":797,"p":2126.135,"k":"ext"},
{"t":778,"t1":797,"p":2131.3175,"k":"key"},{"t":778,"t1":797,"p":2130.4325,"k":"key"},
{"t":778,"t1":797,"p":2130.875,"k":"mid"},
{"t":778,"t1":797,"p":2135.0675,"k":"faint"},{"t":778,"t1":797,"p":2134.18,"k":"faint"},{"t":778,"t1":797,"p":2127.5675,"k":"faint"},{"t":778,"t1":797,"p":2127.125,"k":"faint"},{"t":778,"t1":797,"p":2126.6825,"k":"faint"}
],
"fiblab": [
{"t":803,"p":2136.5,"txt":"200%\u00a0\u00a0 2136.50","k":"n"},
{"t":803,"p":2135.615,"txt":"176.4%\u00a0\u00a0 2135.62","k":"n"},
{"t":803,"p":2135.0675,"txt":"161.8%\u00a0\u00a0 2135.07","k":"f"},
{"t":803,"p":2134.625,"txt":"150%\u00a0\u00a0 2134.63","k":"g"},
{"t":803,"p":2134.18,"txt":"138.2%\u00a0\u00a0 2134.18","k":"f"},
{"t":803,"p":2133.635,"txt":"123.6%\u00a0\u00a0 2133.64","k":"n"},
{"t":803,"p":2132.75,"txt":"100%\u00a0\u00a0 2132.75","k":"n"},
{"t":803,"p":2131.865,"txt":"76.4%\u00a0\u00a0 2131.87","k":"n"},
{"t":803,"p":2131.3175,"txt":"61.8%\u00a0\u00a0 2131.32","k":"k"},
{"t":803,"p":2130.875,"txt":"50%\u00a0\u00a0 2130.88","k":"f"},
{"t":803,"p":2130.4325,"txt":"38.2%\u00a0\u00a0 2130.43","k":"k"},
{"t":803,"p":2129.885,"txt":"23.6%\u00a0\u00a0 2129.89","k":"n"},
{"t":803,"p":2129.0,"txt":"0%\u00a0\u00a0 2129.00","k":"n"},
{"t":803,"p":2128.115,"txt":"-23.6%\u00a0\u00a0 2128.12","k":"n"},
{"t":803,"p":2127.5675,"txt":"-38.2%\u00a0\u00a0 2127.57","k":"f"},
{"t":803,"p":2127.125,"txt":"-50%\u00a0\u00a0 2127.13","k":"g"},
{"t":803,"p":2126.6825,"txt":"-61.8%\u00a0\u00a0 2126.68","k":"f"},
{"t":803,"p":2126.135,"txt":"-76.4%\u00a0\u00a0 2126.14","k":"n"},
{"t":803,"p":2125.25,"txt":"-100%\u00a0\u00a0 2125.25","k":"n"}
],
"waves": [
{"t":430,"p":2147.8,"txt":"2","k":"g"},{"t":430,"p":2146.8,"txt":"a","k":"g"},{"t":415.5,"p":2142.95,"txt":"1","k":"g"},{"t":459.5,"p":2144.25,"txt":"4","k":"g"},{"t":459.5,"p":2143.23,"txt":"a","k":"g"},{"t":449,"p":2139.17,"txt":"3","k":"g"},{"t":489.5,"p":2138.32,"txt":"6","k":"g"},{"t":495,"p":2136.97,"txt":"a","k":"g"},{"t":483.5,"p":2133.7,"txt":"5","k":"g"},{"t":507,"p":2136.24,"txt":"a","k":"g"},{"t":517.5,"p":2135.79,"txt":"a","k":"g"},{"t":506.5,"p":2132.69,"txt":"F7","k":"g"},{"t":515.5,"p":2133.13,"txt":"7","k":"g"},{"t":541.5,"p":2136.46,"txt":"a","k":"g"},{"t":534,"p":2132.24,"txt":"7","k":"g"},{"t":561.5,"p":2138.04,"txt":"8","k":"g"},{"t":561.5,"p":2136.97,"txt":"c","k":"g"},{"t":556,"p":2132.69,"txt":"b","k":"g"},{"t":578,"p":2133.08,"txt":"d","k":"g"},{"t":629.5,"p":2134.38,"txt":"2","k":"g"},{"t":629.5,"p":2133.25,"txt":"a","k":"g"},{"t":617.5,"p":2128.18,"txt":"1","k":"g"},{"t":671.5,"p":2129.75,"txt":"4","k":"g"},{"t":671.5,"p":2128.74,"txt":"a","k":"g"},{"t":659.5,"p":2124.4,"txt":"3","k":"g"},{"t":681.5,"p":2121.13,"txt":"5","k":"g"},{"t":691.5,"p":2125.19,"txt":"a","k":"g"},{"t":695.5,"p":2122.42,"txt":"b","k":"g"},{"t":710,"p":2128.23,"txt":"c","k":"g"},{"t":730,"p":2123.67,"txt":"d","k":"g"},{"t":741.5,"p":2131.11,"txt":"6","k":"g"},
{"t":587.5,"p":2139.96,"txt":"1","k":"n"},{"t":603.5,"p":2132.4,"txt":"2","k":"n"},{"t":746,"p":2131.73,"txt":"1","k":"n"},{"t":755.5,"p":2127.89,"txt":"a","k":"n"},{"t":757.5,"p":2126.48,"txt":"2","k":"n"},{"t":769.5,"p":2133.25,"txt":"F3","k":"n"},{"t":777.5,"p":2128.34,"txt":"a","k":"n"},{"t":789.5,"p":2135.56,"txt":"3","k":"n"}
],
"mainbox": [{"t":862,"k":"last","p":2134.5,"txt":"2134.50"},{"t":862,"k":"ma","p":2133.73,"txt":"2133.73"},{"t":862,"k":"grn","p":2128.9,"txt":"2128.90"}],
"vsma": [
{"t":394,"v":14300},{"t":413,"v":15730},{"t":428,"v":14300},{"t":438,"v":12870},{"t":453,"v":10010},{"t":468,"v":8580},{"t":483,"v":10730},{"t":498,"v":11440},{"t":513,"v":10010},{"t":528,"v":8580},{"t":538,"v":7150},{"t":553,"v":5010},{"t":568,"v":4290},{"t":583,"v":6440},{"t":598,"v":5720},{"t":613,"v":7150},{"t":628,"v":7870},{"t":648,"v":7150},{"t":668,"v":8580},{"t":688,"v":9300},{"t":708,"v":8580},{"t":728,"v":8580},{"t":748,"v":9300},{"t":768,"v":10730},{"t":778,"v":12870},{"t":784,"v":20020},{"t":788,"v":20740},{"t":794,"v":18558}
],
"stlines": [{"t":388,"t1":847,"v":78,"k":"g"},{"t":388,"t1":847,"v":53,"k":"g"},{"t":388,"t1":847,"v":44.4,"k":"d"},{"t":388,"t1":847,"v":18.5,"k":"d"},{"t":388,"t1":847,"v":0,"k":"l"}],
"stk": [
{"t":392.2,"v":63.5},{"t":395.5,"v":8.0},{"t":399.7,"v":11.0},{"t":404.7,"v":21.5},{"t":409.7,"v":19.1},{"t":414.7,"v":17.2},{"t":419.7,"v":32.6},{"t":424.7,"v":48.1},{"t":429.7,"v":57.3},{"t":431.7,"v":63.5},{"t":434.7,"v":29.6},{"t":438,"v":17.2},{"t":441.3,"v":11.0},{"t":448,"v":32.6},{"t":453,"v":63.5},{"t":458,"v":80.8},{"t":463,"v":63.5},{"t":468,"v":26.5},{"t":473,"v":23.4},{"t":478,"v":17.2},{"t":482.2,"v":4.9},{"t":488,"v":26.5},{"t":493,"v":57.3},{"t":495.5,"v":63.5},{"t":499.7,"v":32.6},{"t":503,"v":31.4},{"t":506.3,"v":35.7},{"t":511.3,"v":45.0},{"t":516.3,"v":57.3},{"t":520.5,"v":69.7},{"t":524.7,"v":57.3},{"t":529.7,"v":45.0},{"t":534.7,"v":17.2},{"t":538,"v":45.0},{"t":543,"v":87.0},{"t":548,"v":63.5},{"t":553,"v":23.4},{"t":556.3,"v":38.8},{"t":561.3,"v":75.9},{"t":566.3,"v":63.5},{"t":571.3,"v":51.2},{"t":576.3,"v":41.9},{"t":578.8,"v":29.6},{"t":583,"v":63.5},{"t":587.2,"v":85.1},{"t":591.3,"v":69.7},{"t":596.3,"v":26.5},{"t":600.5,"v":11.0},{"t":604.7,"v":26.5},{"t":609.7,"v":32.6},{"t":614.7,"v":23.4},{"t":619.7,"v":17.2},{"t":624.7,"v":51.2},{"t":628.8,"v":85.1},{"t":633,"v":57.3},{"t":638,"v":51.2},{"t":640,"v":32.6},{"t":645,"v":11.0},{"t":651.7,"v":15.4},{"t":660,"v":17.2},{"t":665,"v":48.1},{"t":668.3,"v":51.2},{"t":673.3,"v":66.6},{"t":676.7,"v":45.0},{"t":681.7,"v":11.0},{"t":686.7,"v":26.5},{"t":691.7,"v":69.7},{"t":696.7,"v":45.0},{"t":701.7,"v":57.3},{"t":706.7,"v":82.0},{"t":710,"v":89.4},{"t":715,"v":63.5},{"t":720,"v":29.6},{"t":725,"v":38.8},{"t":730,"v":29.6},{"t":735,"v":57.3},{"t":740,"v":75.9},{"t":745,"v":89.4},{"t":750,"v":63.5},{"t":754.2,"v":41.9},{"t":758.3,"v":51.2},{"t":763.3,"v":69.7},{"t":767.5,"v":54.3},{"t":771.7,"v":54.3},{"t":776.7,"v":38.8},{"t":780,"v":20.3},{"t":783.3,"v":69.7},{"t":788.3,"v":89.4},{"t":793.3,"v":75.9},{"t":795.8,"v":63.5}
],
"std": [
{"t":391.3,"v":63.5},{"t":394.7,"v":1.8},{"t":403.8,"v":29.6},{"t":409.7,"v":17.2},{"t":414.7,"v":19.1},{"t":421.3,"v":45.0},{"t":429.7,"v":75.9},{"t":436.3,"v":20.3},{"t":443,"v":15.4},{"t":448,"v":35.7},{"t":453.8,"v":83.3},{"t":461.3,"v":63.5},{"t":466.3,"v":23.4},{"t":474.7,"v":26.5},{"t":481.3,"v":3.0},{"t":489.7,"v":45.0},{"t":494.7,"v":82.0},{"t":498,"v":38.8},{"t":501.3,"v":46.2},{"t":504.7,"v":48.1},{"t":508,"v":32.6},{"t":511.3,"v":57.3},{"t":519.7,"v":69.7},{"t":526.3,"v":63.5},{"t":529.7,"v":41.9},{"t":533.8,"v":14.1},{"t":539.7,"v":92.5},{"t":548,"v":57.3},{"t":553,"v":17.2},{"t":559.7,"v":85.1},{"t":568,"v":63.5},{"t":574.7,"v":38.8},{"t":578,"v":8.0},{"t":588,"v":89.4},{"t":594.7,"v":45.0},{"t":599.7,"v":11.0},{"t":604.7,"v":32.6},{"t":611.3,"v":29.6},{"t":618,"v":14.1},{"t":626.3,"v":89.4},{"t":633,"v":51.2},{"t":638,"v":57.3},{"t":643.3,"v":11.0},{"t":650,"v":25.2},{"t":656.7,"v":17.2},{"t":663.3,"v":63.5},{"t":668.3,"v":38.8},{"t":671.7,"v":69.7},{"t":680,"v":4.9},{"t":690,"v":83.3},{"t":695,"v":23.4},{"t":698.3,"v":60.4},{"t":701.7,"v":51.2},{"t":708.3,"v":89.4},{"t":715,"v":57.3},{"t":720,"v":23.4},{"t":723.3,"v":45.0},{"t":728.3,"v":17.2},{"t":735,"v":72.8},{"t":743.3,"v":91.3},{"t":748.3,"v":63.5},{"t":752.5,"v":27.7},{"t":758.3,"v":57.3},{"t":761.7,"v":79.0},{"t":768.3,"v":57.3},{"t":771.7,"v":60.4},{"t":778.3,"v":8.0},{"t":781.7,"v":63.5},{"t":785,"v":91.3},{"t":790,"v":88.2},{"t":795,"v":52.4}
],
"stb": [
{"t":394.7,"v":-0.1,"g":"1"},{"t":408,"v":15.4,"g":"1"},
{"t":440.5,"v":9.2,"g":"2"},{"t":446.3,"v":25.2,"g":"2"},
{"t":498.3,"v":12.3,"g":"3"},{"t":504.2,"v":23.4,"g":"3"},
{"t":560.5,"v":83.3,"g":"4"},{"t":566.3,"v":69.7,"g":"4"},
{"t":598.8,"v":1.8,"g":"5"},{"t":616.3,"v":9.2,"g":"5"},
{"t":646.7,"v":6.7,"g":"6"},{"t":651.7,"v":14.1,"g":"6"},{"t":660,"v":14.1,"g":"6"},
{"t":760,"v":93.1,"g":"7"},{"t":766.7,"v":52.4,"g":"7"}
],
"mth": [
{"t":391.3,"v":-0.24},{"t":398,"v":-1.3},{"t":404.7,"v":-1.87},{"t":411.3,"v":-2.28},{"t":418,"v":-2.5},{"t":424.7,"v":-2.44},{"t":431.3,"v":-2.28},{"t":438,"v":-2.1},{"t":444.7,"v":-1.95},{"t":451.3,"v":-1.79},{"t":458,"v":-1.63},{"t":464.7,"v":-1.55},{"t":471.3,"v":-1.46},{"t":478,"v":-1.55},{"t":484.7,"v":-1.79},{"t":491.3,"v":-1.7},{"t":498,"v":-1.63},{"t":504.7,"v":-1.7},{"t":511.3,"v":-1.55},{"t":518,"v":-1.38},{"t":524.7,"v":-1.22},{"t":531.3,"v":-1.14},{"t":538,"v":-0.98},{"t":544.7,"v":-0.81},{"t":551.3,"v":-0.65},{"t":558,"v":-0.49},{"t":564.7,"v":-0.33},{"t":571.3,"v":-0.24},{"t":578,"v":-0.24},{"t":584.7,"v":0},{"t":591.3,"v":0.16},{"t":598,"v":0},{"t":604.7,"v":-0.33},{"t":611.3,"v":-0.57},{"t":618,"v":-0.81},{"t":624.7,"v":-0.89},{"t":631.3,"v":-0.81},{"t":638,"v":-0.73},{"t":645,"v":-0.89},{"t":655,"v":-1.14},{"t":665,"v":-1.3},{"t":675,"v":-1.3},{"t":685,"v":-1.3},{"t":695,"v":-1.14},{"t":705,"v":-0.81},{"t":715,"v":-0.49},{"t":725,"v":-0.24},{"t":735,"v":0},{"t":745,"v":0.4},{"t":755,"v":0.81},{"t":765,"v":0.97},{"t":775,"v":0.97},{"t":780,"v":0.81},{"t":785,"v":0.97},{"t":795.8,"v":1.22}
],
"mlab": [
{"t":430.5,"v":2.27,"txt":"1","k":"b"},{"t":440.5,"v":-5.54,"txt":"2","k":"b"},{"t":414,"v":-6.27,"txt":"1","k":"g"},{"t":464.5,"v":2.27,"txt":"3","k":"b"},{"t":484.5,"v":-5.05,"txt":"1","k":"g"},{"t":494,"v":2.27,"txt":"1","k":"b"},{"t":508.5,"v":2.27,"txt":"3","k":"b"},{"t":504.5,"v":-4.56,"txt":"2","k":"b"},{"t":510.5,"v":-4.56,"txt":"4","k":"b"},{"t":528.5,"v":2.27,"txt":"5","k":"b"},{"t":532.5,"v":-3.58,"txt":"6","k":"b"},{"t":542.5,"v":2.5,"txt":"7","k":"b"},{"t":556.5,"v":-2.6,"txt":"8","k":"b"},{"t":566.5,"v":2.76,"txt":"9","k":"b"},{"t":578,"v":-2.85,"txt":"1","k":"g"},{"t":588,"v":3.49,"txt":"1","k":"b"},{"t":618,"v":-5.05,"txt":"1","k":"g"},{"t":634.5,"v":2.27,"txt":"1","k":"b"},{"t":674.5,"v":2.27,"txt":"3","k":"b"},{"t":660,"v":-4.8,"txt":"2","k":"b"},{"t":684,"v":-4.8,"txt":"4","k":"b"},{"t":710.5,"v":3.0,"txt":"5","k":"b"},{"t":732,"v":-2.6,"txt":"6","k":"b"},{"t":746,"v":3.73,"txt":"7","k":"b"},{"t":756.5,"v":-2.85,"txt":"1","k":"g"},{"t":770.5,"v":3.49,"txt":"2","k":"g"},{"t":778.5,"v":-2.85,"txt":"3","k":"g"},{"t":790.5,"v":3.73,"txt":"1","k":"b"}
]
},
"vconcat": [
{
 "width": 918, "height": 663,
 "encoding": {
  "x": {"field": "t", "type": "quantitative", "scale": {"domain": [388, 847], "nice": false, "zero": false, "padding": 0}, "axis": null}
 },
 "layer": [
  {"data": {"name": "gridp"}, "mark": {"type": "rule", "color": "#d4d4d4", "strokeWidth": 1},
   "encoding": {"x2": {"field": "t1"},
                "y": {"field": "p", "type": "quantitative", "scale": {"domain": [2118.59, 2155.974], "nice": false, "zero": false, "padding": 0}, "axis": null}}},
  {"data": {"name": "ptick"}, "mark": {"type": "rule", "color": "#000", "strokeWidth": 1},
   "encoding": {"x2": {"field": "t1"}, "y": {"field": "p", "type": "quantitative", "axis": null}}},
  {"data": {"name": "ptick"}, "mark": {"type": "text", "align": "left", "baseline": "middle", "dx": 7, "fontSize": 13, "color": "#000"},
   "encoding": {"y": {"field": "p", "type": "quantitative", "axis": null}, "text": {"field": "txt"}}},
  {"data": {"name": "shade"}, "mark": {"type": "rect"},
   "encoding": {"x2": {"field": "t1"},
                "color": {"condition": [{"test": "datum.k == 'pre'", "value": "#6464d2"}, {"test": "datum.k == 'grey'", "value": "#000000"}], "value": "#00be00"},
                "opacity": {"condition": [{"test": "datum.k == 'pre'", "value": 0.035}, {"test": "datum.k == 'grey'", "value": 0.06}], "value": 0.085}}},
  {"data": {"name": "maBlue"}, "mark": {"type": "line", "color": "#3a8ee6", "strokeWidth": 2, "clip": true}, "encoding": {"y": {"field": "p", "type": "quantitative", "axis": null}}},
  {"data": {"name": "slines"}, "transform": [{"filter": "datum.k == 'p'"}], "mark": {"type": "rule", "color": "#2eb0e6", "strokeWidth": 2},
   "encoding": {"x2": {"field": "t1"}, "y": {"field": "p", "type": "quantitative", "axis": null}}},
  {"data": {"name": "slines"}, "transform": [{"filter": "datum.k == 'm'"}], "mark": {"type": "rule", "color": "#808080", "strokeWidth": 1},
   "encoding": {"x2": {"field": "t1"}, "y": {"field": "p", "type": "quantitative", "axis": null}}},
  {"data": {"name": "slines"}, "transform": [{"filter": "datum.txt != ''"}], "mark": {"type": "text", "align": "left", "baseline": "alphabetic", "dx": 10, "dy": -4, "fontSize": 13},
   "encoding": {"y": {"field": "p", "type": "quantitative", "axis": null}, "text": {"field": "txt"},
                "color": {"condition": {"test": "datum.k == 'p'", "value": "#2eb0e6"}, "value": "#707070"}}},
  {"data": {"name": "hl"}, "mark": {"type": "rect", "color": "#f6f65a", "opacity": 0.85},
   "encoding": {"x2": {"field": "t1"}, "y": {"field": "p", "type": "quantitative", "axis": null}, "y2": {"field": "p1"}}},
  {"data": {"name": "maOrange"}, "mark": {"type": "line", "color": "#d9a22a", "strokeWidth": 3, "clip": true}, "encoding": {"y": {"field": "p", "type": "quantitative", "axis": null}}},
  {"data": {"name": "maGrey"}, "mark": {"type": "line", "color": "#8c8c8c", "strokeWidth": 2, "clip": true}, "encoding": {"y": {"field": "p", "type": "quantitative", "axis": null}}},
  {"data": {"name": "gseg"}, "mark": {"type": "line", "color": "#33dd33", "strokeWidth": 2, "clip": true}, "encoding": {"y": {"field": "p", "type": "quantitative", "axis": null}, "detail": {"field": "g", "type": "nominal"}}},
  {"data": {"name": "zz"}, "mark": {"type": "line", "color": "#f0a0a0", "strokeWidth": 1, "strokeDash": [2, 2], "clip": true}, "encoding": {"y": {"field": "p", "type": "quantitative", "axis": null}}},
  {"data": {"name": "bars"}, "mark": {"type": "rule", "color": "#222", "strokeWidth": 1},
   "encoding": {"y": {"field": "l", "type": "quantitative", "axis": null}, "y2": {"field": "h"}}},
  {"data": {"name": "bars"}, "mark": {"type": "bar", "size": 3, "stroke": "#333", "strokeWidth": 0.6},
   "encoding": {"y": {"field": "o", "type": "quantitative", "axis": null}, "y2": {"field": "c"},
                "color": {"condition": {"test": "datum.c >= datum.o", "value": "#98e098"}, "value": "#a8a8a8"}}},
  {"data": {"name": "maBlack"}, "mark": {"type": "line", "color": "#111", "strokeWidth": 2, "clip": true}, "encoding": {"y": {"field": "p", "type": "quantitative", "axis": null}}},
  {"data": {"name": "navy"}, "mark": {"type": "rule", "color": "#2020c8", "strokeWidth": 2}, "encoding": {"x2": {"field": "t1"}, "y": {"field": "p", "type": "quantitative", "axis": null}}},
  {"data": {"name": "fib"}, "transform": [{"filter": "datum.k == 'mid'"}], "mark": {"type": "rule", "color": "#bdbdbd", "strokeWidth": 2},
   "encoding": {"x2": {"field": "t1"}, "y": {"field": "p", "type": "quantitative", "axis": null}}},
  {"data": {"name": "fib"}, "transform": [{"filter": "datum.k == 'faint'"}], "mark": {"type": "rule", "color": "#b0b0b0", "strokeWidth": 1, "strokeDash": [1, 2]},
   "encoding": {"x2": {"field": "t1"}, "y": {"field": "p", "type": "quantitative", "axis": null}}},
  {"data": {"name": "fib"}, "transform": [{"filter": "datum.k == 'ext'"}], "mark": {"type": "rule", "color": "#22229c", "strokeWidth": 1, "strokeDash": [1, 2]},
   "encoding": {"x2": {"field": "t1"}, "y": {"field": "p", "type": "quantitative", "axis": null}}},
  {"data": {"name": "fib"}, "transform": [{"filter": "datum.k == 'key'"}], "mark": {"type": "rule", "color": "#000", "strokeWidth": 1},
   "encoding": {"x2": {"field": "t1"}, "y": {"field": "p", "type": "quantitative", "axis": null}}},
  {"data": {"name": "fib"}, "transform": [{"filter": "datum.k == 'main'"}], "mark": {"type": "rule", "color": "#14148a", "strokeWidth": 3},
   "encoding": {"x2": {"field": "t1"}, "y": {"field": "p", "type": "quantitative", "axis": null}}},
  {"data": {"name": "fiblab"}, "mark": {"type": "text", "align": "left", "baseline": "alphabetic", "dy": -3, "fontSize": 13, "clip": true},
   "encoding": {"y": {"field": "p", "type": "quantitative", "axis": null}, "text": {"field": "txt"},
                "color": {"condition": [{"test": "datum.k == 'n'", "value": "#2424a8"}, {"test": "datum.k == 'k'", "value": "#000000"}, {"test": "datum.k == 'g'", "value": "#8a8a8a"}], "value": "#cfcfcf"}}},
  {"data": {"name": "divs"}, "mark": {"type": "line", "color": "#1414c8", "strokeWidth": 2}, "encoding": {"y": {"field": "p", "type": "quantitative", "axis": null}, "detail": {"field": "g", "type": "nominal"}}},
  {"data": {"name": "waves"}, "mark": {"type": "text", "align": "center", "baseline": "middle", "fontSize": 16, "fontWeight": "bold"},
   "encoding": {"y": {"field": "p", "type": "quantitative", "axis": null}, "text": {"field": "txt"},
                "color": {"condition": {"test": "datum.k == 'n'", "value": "#2ad82a"}, "value": "#8a8a8a"}}},
  {"data": {"values": [{"t": 389, "p": 2119.89, "txt": "bled since either you are disconnected or current time is outside session time or chart end date"}]},
   "mark": {"type": "text", "align": "left", "baseline": "middle", "fontSize": 21.5, "color": "#000"}, "encoding": {"y": {"field": "p", "type": "quantitative", "axis": null}, "text": {"field": "txt"}}},
  {"data": {"values": [{"t": 845.5, "p": 2119.5, "txt": "Insufficient historical data to calculate pivots. Increase chart look back period."}]},
   "mark": {"type": "text", "align": "right", "baseline": "middle", "fontSize": 13, "color": "#222"}, "encoding": {"y": {"field": "p", "type": "quantitative", "axis": null}, "text": {"field": "txt"}}},
  {"data": {"name": "mainbox"},
   "mark": {"type": "point", "shape": "M-1,0L-0.76,-0.26L1,-0.26L1,0.26L-0.76,0.26Z", "size": 3364, "filled": true, "opacity": 1, "stroke": "#222", "strokeWidth": 0.6},
   "encoding": {"y": {"field": "p", "type": "quantitative", "axis": null},
                "color": {"condition": [{"test": "datum.k == 'last'", "value": "#000000"}, {"test": "datum.k == 'ma'", "value": "#3399ff"}], "value": "#00ee00"}}},
  {"data": {"name": "mainbox"}, "mark": {"type": "text", "align": "center", "baseline": "middle", "fontSize": 13, "dx": 3},
   "encoding": {"y": {"field": "p", "type": "quantitative", "axis": null}, "text": {"field": "txt"},
                "color": {"condition": {"test": "datum.k == 'grn'", "value": "#000000"}, "value": "#ffffff"}}}
 ]
},
{
 "width": 918, "height": 64,
 "encoding": {
  "x": {"field": "t", "type": "quantitative", "scale": {"domain": [388, 847], "nice": false, "zero": false, "padding": 0}, "axis": null}
 },
 "layer": [
  {"data": {"values": [{"t": 388, "t1": 847, "v": 0}]}, "mark": {"type": "rule", "color": "#b4b4b4", "strokeWidth": 1},
   "encoding": {"x2": {"field": "t1"}, "y": {"field": "v", "type": "quantitative", "scale": {"domain": [-11440, 80080], "nice": false, "zero": false, "padding": 0}, "axis": null}}},
  {"data": {"name": "vsma"}, "mark": {"type": "line", "color": "#f2d43c", "strokeWidth": 2}, "encoding": {"y": {"field": "v", "type": "quantitative", "axis": null}}},
  {"data": {"name": "bars"}, "mark": {"type": "bar", "size": 2, "color": "#14148c"}, "encoding": {"y": {"field": "v", "type": "quantitative", "axis": null}}},
  {"data": {"name": "bars"}, "transform": [{"filter": "datum.hv == 1"}], "mark": {"type": "point", "filled": true, "color": "#1010a8", "size": 36, "opacity": 1, "yOffset": -6},
   "encoding": {"y": {"field": "v", "type": "quantitative", "axis": null}}},
  {"data": {"values": [{"t": 390.5, "v": 52910, "txt": "VolSMA(ES 12-16 (2 Min),10)"}]}, "mark": {"type": "text", "align": "left", "baseline": "middle", "fontSize": 13, "color": "#000"},
   "encoding": {"y": {"field": "v", "type": "quantitative", "axis": null}, "text": {"field": "txt"}}},
  {"data": {"values": [{"t": 862.5, "v": 18558.3, "txt": "18558.3"}]},
   "mark": {"type": "point", "shape": "M-1,0L-0.75,-0.27L1,-0.27L1,0.27L-0.75,0.27Z", "size": 3136, "filled": true, "opacity": 1, "color": "#ffd83a", "stroke": "#444", "strokeWidth": 0.6},
   "encoding": {"y": {"field": "v", "type": "quantitative", "axis": null}}},
  {"data": {"values": [{"t": 862.5, "v": 18558.3, "txt": "18558.3"}]}, "mark": {"type": "text", "align": "center", "baseline": "middle", "fontSize": 13, "color": "#000", "dx": 3},
   "encoding": {"y": {"field": "v", "type": "quantitative", "axis": null}, "text": {"field": "txt"}}},
  {"data": {"values": [{"t": 847, "t1": 885, "v": 80080}]}, "mark": {"type": "rule", "color": "#000", "strokeWidth": 1},
   "encoding": {"x2": {"field": "t1"}, "y": {"field": "v", "type": "quantitative", "axis": null}}}
 ]
},
{
 "width": 918, "height": 68,
 "encoding": {
  "x": {"field": "t", "type": "quantitative", "scale": {"domain": [388, 847], "nice": false, "zero": false, "padding": 0}, "axis": null}
 },
 "layer": [
  {"data": {"name": "stlines"}, "mark": {"type": "rule", "strokeWidth": 1},
   "encoding": {"x2": {"field": "t1"},
                "y": {"field": "v", "type": "quantitative", "scale": {"domain": [-14.26, 111.67], "nice": false, "zero": false},
                      "axis": {"orient": "right", "title": null, "values": [0, 100], "tickSize": 5, "labelPadding": 2, "domain": false, "grid": false, "labelFontSize": 13}},
                "color": {"condition": [{"test": "datum.k == 'g'", "value": "#8a8a8a"}, {"test": "datum.k == 'd'", "value": "#1a781a"}], "value": "#c8c8c8"}}},
  {"data": {"name": "stk"},
   "transform": [{"window": [{"op": "lead", "field": "t", "as": "t2"}, {"op": "lead", "field": "v", "as": "v2"}], "sort": [{"field": "t", "order": "ascending"}]}, {"filter": "datum.t2 != null"}],
   "mark": {"type": "rule", "strokeWidth": 2.5, "strokeCap": "round"},
   "encoding": {"x2": {"field": "t2"}, "y": {"field": "v", "type": "quantitative", "axis": null}, "y2": {"field": "v2"},
                "color": {"condition": {"test": "datum.v2 >= datum.v", "value": "#33dd33"}, "value": "#8c8c8c"}}},
  {"data": {"name": "std"}, "mark": {"type": "line", "color": "#222", "strokeWidth": 1, "strokeDash": [1, 2]}, "encoding": {"y": {"field": "v", "type": "quantitative", "axis": null}}},
  {"data": {"name": "stb"}, "mark": {"type": "line", "color": "#1414c8", "strokeWidth": 2}, "encoding": {"y": {"field": "v", "type": "quantitative", "axis": null}, "detail": {"field": "g", "type": "nominal"}}},
  {"data": {"values": [{"t": 859.25, "v": 53.85, "txt": "53.85"}]},
   "mark": {"type": "point", "shape": "M-1,0L-0.67,-0.35L1,-0.35L1,0.35L-0.67,0.35Z", "size": 1849, "filled": true, "opacity": 1, "color": "#000"},
   "encoding": {"y": {"field": "v", "type": "quantitative", "axis": null}}},
  {"data": {"values": [{"t": 859.25, "v": 53.85, "txt": "53.85"}]}, "mark": {"type": "text", "align": "center", "baseline": "middle", "fontSize": 13, "color": "#fff", "dx": 3},
   "encoding": {"y": {"field": "v", "type": "quantitative", "axis": null}, "text": {"field": "txt"}}},
  {"data": {"values": [{"t": 847, "t1": 885, "v": 111.67}]}, "mark": {"type": "rule", "color": "#000", "strokeWidth": 1},
   "encoding": {"x2": {"field": "t1"}, "y": {"field": "v", "type": "quantitative", "axis": null}}}
 ]
},
{
 "width": 918, "height": 56,
 "encoding": {
  "x": {"field": "t", "type": "quantitative", "scale": {"domain": [388, 847], "nice": false, "zero": false, "padding": 0}, "axis": null}
 },
 "layer": [
  {"data": {"name": "bars"},
   "transform": [{"window": [{"op": "lag", "field": "m", "as": "mp"}], "sort": [{"field": "t", "order": "ascending"}]}],
   "mark": {"type": "bar", "size": 1.5},
   "encoding": {"y": {"field": "m", "type": "quantitative", "scale": {"domain": [-7.49, 6.17], "nice": false, "zero": false, "padding": 0}, "axis": null},
                "color": {"condition": {"test": "datum.mp == null || datum.m >= datum.mp", "value": "#33cc33"}, "value": "#7a7a7a"}}},
  {"data": {"values": [{"t": 388, "t1": 847, "v": 0}]}, "mark": {"type": "rule", "color": "#000", "strokeWidth": 1},
   "encoding": {"x2": {"field": "t1"}, "y": {"field": "v", "type": "quantitative", "axis": null}}},
  {"data": {"name": "bars"}, "mark": {"type": "line", "color": "#000", "strokeWidth": 1}, "encoding": {"y": {"field": "m", "type": "quantitative", "axis": null}}},
  {"data": {"name": "mth"},
   "transform": [{"window": [{"op": "lead", "field": "t", "as": "t2"}, {"op": "lead", "field": "v", "as": "v2"}], "sort": [{"field": "t", "order": "ascending"}]}, {"filter": "datum.t2 != null"}],
   "mark": {"type": "rule", "strokeWidth": 3, "strokeCap": "round"},
   "encoding": {"x2": {"field": "t2"}, "y": {"field": "v", "type": "quantitative", "axis": null}, "y2": {"field": "v2"},
                "color": {"condition": {"test": "datum.v2 >= datum.v", "value": "#22ee22"}, "value": "#8c8c8c"}}},
  {"data": {"name": "mlab"}, "mark": {"type": "text", "align": "center", "baseline": "middle", "fontSize": 15, "fontWeight": "bold", "clip": true},
   "encoding": {"y": {"field": "v", "type": "quantitative", "axis": null}, "text": {"field": "txt"},
                "color": {"condition": {"test": "datum.k == 'b'", "value": "#2020c0"}, "value": "#8c8c8c"}}},
  {"data": {"values": [{"t": 857.5, "v": 1.96, "txt": "1.96"}]},
   "mark": {"type": "point", "shape": "M-1,0L-0.61,-0.42L1,-0.42L1,0.42L-0.61,0.42Z", "size": 1296, "filled": true, "opacity": 1, "color": "#8c8c8c", "stroke": "#444", "strokeWidth": 0.6},
   "encoding": {"y": {"field": "v", "type": "quantitative", "axis": null}}},
  {"data": {"values": [{"t": 857.5, "v": 1.96, "txt": "1.96"}]}, "mark": {"type": "text", "align": "center", "baseline": "middle", "fontSize": 13, "color": "#000", "dx": 3},
   "encoding": {"y": {"field": "v", "type": "quantitative", "axis": null}, "text": {"field": "txt"}}},
  {"data": {"values": [{"t": 847, "t1": 885, "v": 6.17}]}, "mark": {"type": "rule", "color": "#000", "strokeWidth": 1},
   "encoding": {"x2": {"field": "t1"}, "y": {"field": "v", "type": "quantitative", "axis": null}}}
 ]
},
{
 "width": 918, "height": 18,
 "encoding": {
  "x": {"field": "t", "type": "quantitative", "scale": {"domain": [388, 847], "nice": false, "zero": false, "padding": 0},
        "axis": {"title": null, "values": [420, 450, 480, 510, 540, 570, 600, 630, 660, 690, 720, 750, 780],
                 "labelExpr": "(floor(datum.value/60) < 10 ? '0' : '') + floor(datum.value/60) + ':' + (datum.value % 60 < 10 ? '0' : '') + (datum.value % 60)",
                 "tickSize": 5, "labelPadding": 3, "domain": false, "grid": false, "labelFontSize": 13}}
 },
 "layer": [
  {"data": {"values": [{"t": 389.5, "v": 0.44, "txt": "\u00a9 2016 NinjaTrader, LLC"}]}, "mark": {"type": "text", "align": "left", "baseline": "middle", "fontSize": 12, "color": "#000"},
   "encoding": {"y": {"field": "v", "type": "quantitative", "scale": {"domain": [0, 1], "nice": false, "zero": false}, "axis": null}, "text": {"field": "txt"}}},
  {"data": {"name": "bars"}, "transform": [{"filter": "datum.mk == 1"}], "mark": {"type": "rule", "color": "#f7a81b", "strokeWidth": 3},
   "encoding": {"y": {"datum": 0.17, "axis": null}, "y2": {"datum": 0.67}}},
  {"data": {"values": [{"t": 853, "v": 0.28, "txt": "0"}]},
   "mark": {"type": "point", "shape": "M-1,0L-0.33,-0.78L1,-0.78L1,0.78L-0.33,0.78Z", "size": 324, "filled": true, "opacity": 1, "color": "#ffb020", "stroke": "#555", "strokeWidth": 0.6},
   "encoding": {"y": {"field": "v", "type": "quantitative", "axis": null}}},
  {"data": {"values": [{"t": 853, "v": 0.28, "txt": "0"}]}, "mark": {"type": "text", "align": "center", "baseline": "middle", "fontSize": 13, "color": "#000", "dx": 2},
   "encoding": {"y": {"field": "v", "type": "quantitative", "axis": null}, "text": {"field": "txt"}}},
  {"data": {"values": [{"t": 847, "t1": 885, "v": 1}]}, "mark": {"type": "rule", "color": "#000", "strokeWidth": 1},
   "encoding": {"x2": {"field": "t1"}, "y": {"field": "v", "type": "quantitative", "axis": null}}}
 ]
}
]
}
